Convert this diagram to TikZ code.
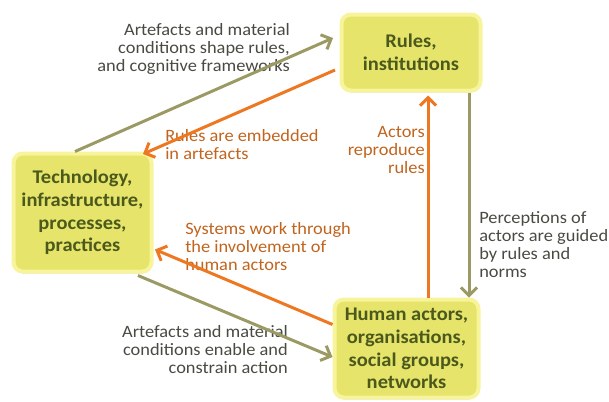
\documentclass[tikz,border=0pt]{standalone}
\usepackage{fontspec}
\setmainfont{Carlito}[FakeStretch=1.06]
\usetikzlibrary{arrows.meta,calc,shadows}
\definecolor{boxfill}{HTML}{E6E46A}
\definecolor{boxglow}{HTML}{F8F49C}
\definecolor{boxtext}{HTML}{4B5A1C}
\definecolor{olivearrow}{HTML}{9C9A64}
\definecolor{orangearrow}{HTML}{EE7722}
\definecolor{greytext}{HTML}{4A4A42}
\definecolor{orangetext}{HTML}{C0641E}

\begin{document}
\begin{tikzpicture}[x=0.75pt,y=-0.75pt]
        \useasboundingbox (0,0) rectangle (609,401);

        % Define styles for shapes, labels and arrows
        \tikzstyle{box} = [draw=boxglow, line width=3pt, fill=boxfill, rounded corners=7pt,
            drop shadow={shadow xshift=0pt, shadow yshift=-1.5pt, opacity=0.25, fill=gray},
            text=boxtext, font=\fontsize{14.5}{17}\selectfont\bfseries, align=center, inner sep=0pt]
        \tikzstyle{greylabel} = [text=greytext, font=\fontsize{13}{13.5}\selectfont, inner sep=0pt]
        \tikzstyle{orangelabel} = [text=orangetext, font=\fontsize{13}{13.5}\selectfont, inner sep=0pt]
        \tikzstyle{olivearr} = [draw=olivearrow, line width=2.25pt, -{Straight Barb[length=6pt, width=12pt]}]
        \tikzstyle{orangearr} = [draw=orangearrow, line width=2.25pt, -{Straight Barb[length=6pt, width=12pt]}]

        % Draw shapes
        \node[box, minimum width=104.25pt, minimum height=57pt] (rules) at (411,52.5) {Rules,\\institutions};
        \node[box, minimum width=103.5pt, minimum height=88.5pt] (tech) at (82.5,212.5) {Technology,\\infrastructure,\\processes,\\practices};
        \node[box, minimum width=108pt, minimum height=73.5pt] (human) at (406.5,348.5) {Human actors,\\organisations,\\social groups,\\networks};

        % Labels
        \node[greylabel, anchor=east, align=right] (lbl1) at (290,48.5) {Artefacts and material\\conditions shape rules,\\and cognitive frameworks};
        \node[orangelabel, anchor=west, align=left] (lbl2) at (165,144.5) {Rules are embedded\\in artefacts};
        \node[orangelabel, anchor=east, align=right] (lbl3) at (425,149.5) {Actors\\reproduce\\rules};
        \node[greylabel, anchor=west, align=left] (lbl4) at (479,244.5) {Perceptions of\\actors are guided\\by rules and\\norms};
        \node[orangelabel, anchor=west, align=left] (lbl5) at (185,246.5) {Systems work through\\the involvement of\\human actors};
        \node[greylabel, anchor=east, align=right] (lbl6) at (288,350) {Artefacts and material\\conditions enable and\\constrain action};

        % Draw arrows
        \draw[olivearr] ($(tech.north)+(-7.5,0)$) -- ($(rules.west)+(-6.5,-14.5)$);
        \draw[orangearr] ($(rules.west)+(-4.5,17.5)$) -- ($(tech.north east)+(-10.5,2.5)$);
        \draw[orangearr] ($(human.north)+(21.5,0)$) -- ($(rules.south)+(17,3)$);
        \draw[olivearr] ($(rules.south)+(58,0)$) -- ($(human.north)+(62.5,0)$);
        \draw[orangearr] ($(human.west)+(0,-24)$) -- ($(tech.east)+(1.5,37)$);
        \draw[olivearr] ($(tech.south)+(55.5,2)$) -- ($(human.west)+(0,8.5)$);
    \end{tikzpicture}
\end{document}
